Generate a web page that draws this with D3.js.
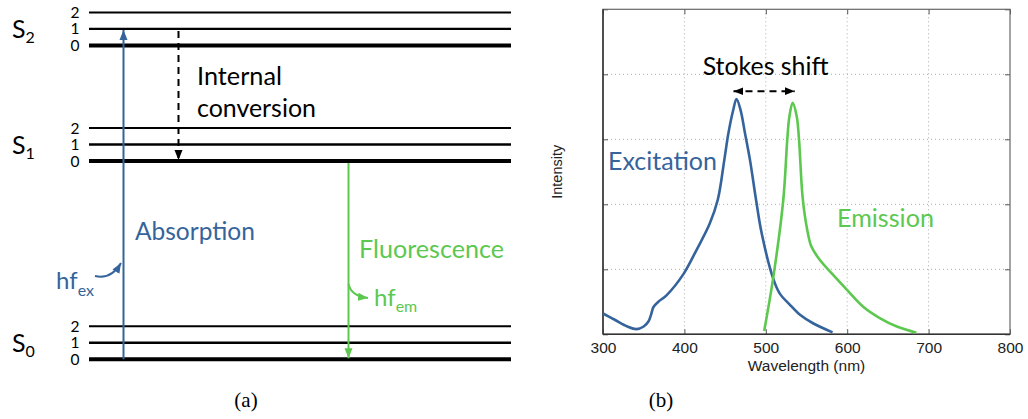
<!DOCTYPE html>
<html><head><meta charset="utf-8">
<script src="https://cdn.jsdelivr.net/npm/d3@7"></script>
<style>html,body{margin:0;padding:0;background:#fff}svg{display:block}</style>
</head><body>
<svg id="chart" width="1028" height="419"></svg>
<script>
// ---------- Data ----------
// Jablonski diagram: electronic states (energy in vibrational units) and vibrational levels
const states = ["S0", "S1", "S2"];
const stateEnergy = [0, 12, 19];
const vibLevels = [0, 1, 2];
// transitions: [fromEnergy, toEnergy]
const absorption = [0, 20];
const internalConversion = [20, 12];
const fluorescence = [12, 0];

// Spectra (wavelength nm, intensity)
const excitationNm = [300, 315, 330, 341, 350, 356, 359, 362, 368, 378, 399, 415, 431, 441, 449, 454, 460, 464, 469, 474.5, 480.6, 488, 495, 509, 517, 530, 542, 558, 582];
const excitationI  = [0.32, 0.22, 0.12, 0.08, 0.12, 0.2, 0.3, 0.42, 0.5, 0.6, 0.93, 1.3, 1.7, 2.07, 2.68, 3.09, 3.45, 3.62, 3.45, 3.09, 2.68, 2.07, 1.55, 0.86, 0.63, 0.45, 0.3, 0.17, 0.03];
const emissionNm = [498, 509, 521.5, 526.4, 529, 533, 538, 540.8, 545.3, 551, 556, 566, 583, 600, 620, 640, 661, 685];
const emissionI  = [0.05, 0.86, 2.07, 3.0, 3.35, 3.56, 3.35, 3.0, 2.1, 1.6, 1.35, 1.15, 0.91, 0.68, 0.42, 0.25, 0.12, 0.025];
const stokesPeaks = [464, 533];
const xTicks = [300, 400, 500, 600, 700, 800];
const yTicks = [0, 1, 2, 3, 4, 5];

// ---------- Styles ----------
const BLUE = "#35649c", GREEN = "#5cc84f";
const SANS = "Lato, 'Open Sans', sans-serif";
const ARIAL = "'Liberation Sans', Arial, sans-serif";
const svg = d3.select("#chart");

function fit(sel, target) {
  const fs = parseFloat(sel.attr("font-size"));
  const w = sel.node().getComputedTextLength();
  sel.attr("font-size", fs * target / w);
  return sel;
}

// markers
const defs = svg.append("defs");
function marker(id, color) {
  defs.append("marker").attr("id", id).attr("viewBox", "0 0 10 10")
    .attr("refX", 10).attr("refY", 5).attr("markerWidth", 10).attr("markerHeight", 10)
    .attr("markerUnits", "userSpaceOnUse").attr("orient", "auto-start-reverse")
    .append("path").attr("d", "M0,1 L10,5 L0,9 Z").attr("fill", color);
}
marker("ab", BLUE); marker("ag", GREEN); marker("ak", "#000");

// ---------- Panel (a) ----------
const yE = d3.scaleLinear().domain([0, 21]).range([359.3, 12.4]);
const xA = d3.scaleLinear().domain([0, 1]).range([89, 511]);
const gA = svg.append("g");

states.forEach((s, i) => {
  vibLevels.forEach(v => {
    const y = yE(stateEnergy[i] + v);
    gA.append("line").attr("x1", xA(0)).attr("x2", xA(1)).attr("y1", y).attr("y2", y)
      .attr("stroke", "#000").attr("stroke-width", v === 0 ? 4 : (v === 1 ? 2.4 : 2));
    gA.append("text").attr("x", 75).attr("y", y + 5.5).attr("text-anchor", "middle")
      .attr("font-family", SANS).attr("font-size", 15.5).text(v);
  });
  const yl = yE(stateEnergy[i] + 1);
  const t = gA.append("text").attr("x", 12).attr("y", yl + 9).attr("font-family", SANS).attr("font-size", 25);
  t.append("tspan").text(s[0]);
  t.append("tspan").attr("font-size", 16).attr("dy", 5).text(s[1]);
});

// transitions
const xAbs = 123.5, xIC = 178.5, xFl = 348.5;
gA.append("line").attr("x1", xAbs).attr("x2", xAbs).attr("y1", yE(absorption[0])).attr("y2", yE(absorption[1]) + 1)
  .attr("stroke", BLUE).attr("stroke-width", 2).attr("marker-end", "url(#ab)");
gA.append("line").attr("x1", xIC).attr("x2", xIC).attr("y1", yE(internalConversion[0]) + 2).attr("y2", yE(internalConversion[1]) - 1)
  .attr("stroke", "#000").attr("stroke-width", 2).attr("stroke-dasharray", "7,5").attr("marker-end", "url(#ak)");
gA.append("line").attr("x1", xFl).attr("x2", xFl).attr("y1", yE(fluorescence[0]) + 2).attr("y2", yE(fluorescence[1]) - 1)
  .attr("stroke", GREEN).attr("stroke-width", 2).attr("marker-end", "url(#ag)");

fit(gA.append("text").attr("x", 197).attr("y", 85).attr("font-family", SANS).attr("font-size", 24).text("Internal"), 85);
fit(gA.append("text").attr("x", 197).attr("y", 117).attr("font-family", SANS).attr("font-size", 24).text("conversion"), 119);
fit(gA.append("text").attr("x", 135).attr("y", 240).attr("font-family", SANS).attr("font-size", 24).attr("fill", BLUE).text("Absorption"), 120);
fit(gA.append("text").attr("x", 359).attr("y", 258).attr("font-family", SANS).attr("font-size", 24).attr("fill", GREEN).text("Fluorescence"), 145);

const hfex = gA.append("text").attr("x", 56).attr("y", 289).attr("font-family", SANS).attr("font-size", 24).attr("fill", BLUE);
hfex.append("tspan").text("hf"); hfex.append("tspan").attr("font-size", 16).attr("dy", 7).text("ex");
const hfem = gA.append("text").attr("x", 374).attr("y", 306).attr("font-family", SANS).attr("font-size", 24).attr("fill", GREEN);
hfem.append("tspan").text("hf"); hfem.append("tspan").attr("font-size", 16).attr("dy", 6).text("em");

gA.append("path").attr("d", "M95,276 Q111,280 121,263").attr("fill", "none").attr("stroke", BLUE).attr("stroke-width", 2).attr("marker-end", "url(#ab)");
gA.append("path").attr("d", "M348.5,284 Q351,296 368,298").attr("fill", "none").attr("stroke", GREEN).attr("stroke-width", 2).attr("marker-end", "url(#ag)");

svg.append("text").attr("x", 246).attr("y", 407).attr("text-anchor", "middle")
  .attr("font-family", "'Liberation Serif', serif").attr("font-size", 21).text("(a)");

// ---------- Panel (b) ----------
const x = d3.scaleLinear().domain([300, 800]).range([603, 1010]);
const y = d3.scaleLinear().domain([0, 5]).range([334.3, 9.3]);
const gB = svg.append("g");

// grid
gB.selectAll(".gx").data(xTicks.slice(1, -1)).enter().append("line")
  .attr("x1", d => x(d)).attr("x2", d => x(d)).attr("y1", y(0)).attr("y2", y(5))
  .attr("stroke", "#aaa").attr("stroke-width", 1).attr("stroke-dasharray", "1,3");
gB.selectAll(".gy").data(yTicks.slice(1, -1)).enter().append("line")
  .attr("x1", x(300)).attr("x2", x(800)).attr("y1", d => y(d)).attr("y2", d => y(d))
  .attr("stroke", "#aaa").attr("stroke-width", 1).attr("stroke-dasharray", "1,3");

// axes with inward ticks
const axB = gB.append("g").attr("transform", `translate(0,${y(0)})`)
  .call(d3.axisBottom(x).tickValues(xTicks).tickSizeInner(-5).tickSizeOuter(0).tickPadding(8));
axB.selectAll("text").attr("font-family", ARIAL).attr("font-size", 15.5).attr("fill", "#222");
const axT = gB.append("g").attr("transform", `translate(0,${y(5)})`)
  .call(d3.axisTop(x).tickValues(xTicks).tickSizeInner(-5).tickSizeOuter(0).tickFormat(""));
const axL = gB.append("g").attr("transform", `translate(${x(300)},0)`)
  .call(d3.axisLeft(y).tickValues(yTicks).tickSizeInner(-5).tickSizeOuter(0).tickFormat(""));
const axR = gB.append("g").attr("transform", `translate(${x(800)},0)`)
  .call(d3.axisRight(y).tickValues(yTicks).tickSizeInner(-5).tickSizeOuter(0).tickFormat(""));
[axB, axT, axL, axR].forEach(a => { a.select(".domain").remove(); a.selectAll("line").attr("stroke", "#555"); });
gB.append("rect").attr("x", x(300)).attr("y", y(5)).attr("width", x(800) - x(300)).attr("height", y(0) - y(5))
  .attr("fill", "none").attr("stroke", "#666").attr("stroke-width", 1.2);
gB.append("line").attr("x1", x(300)).attr("x2", x(800)).attr("y1", y(0)).attr("y2", y(0)).attr("stroke", "#333").attr("stroke-width", 1.5);
gB.append("line").attr("x1", x(300)).attr("x2", x(300)).attr("y1", y(0)).attr("y2", y(5)).attr("stroke", "#333").attr("stroke-width", 1.5);

const line = d3.line().x(d => x(d[0])).y(d => y(d[1])).curve(d3.curveCatmullRom.alpha(0.5));
gB.append("path").datum(d3.zip(excitationNm, excitationI)).attr("d", line)
  .attr("fill", "none").attr("stroke", BLUE).attr("stroke-width", 2.6).attr("stroke-linejoin", "round");
gB.append("path").datum(d3.zip(emissionNm, emissionI)).attr("d", line)
  .attr("fill", "none").attr("stroke", GREEN).attr("stroke-width", 2.6).attr("stroke-linejoin", "round");

// Stokes shift arrow
const ys = y(3.74);
gB.append("line").attr("x1", x(stokesPeaks[0]) - 3).attr("x2", x(stokesPeaks[1]) + 2).attr("y1", ys).attr("y2", ys)
  .attr("stroke", "#000").attr("stroke-width", 2).attr("stroke-dasharray", "7,5")
  .attr("marker-start", "url(#ak)").attr("marker-end", "url(#ak)");
fit(gB.append("text").attr("x", (x(stokesPeaks[0]) + x(stokesPeaks[1])) / 2 + 1).attr("y", 75).attr("text-anchor", "middle")
  .attr("font-family", SANS).attr("font-size", 24).text("Stokes shift"), 126);

fit(gB.append("text").attr("x", 608).attr("y", 170).attr("font-family", SANS).attr("font-size", 24).attr("fill", BLUE).text("Excitation"), 109);
fit(gB.append("text").attr("x", 837).attr("y", 227).attr("font-family", SANS).attr("font-size", 24).attr("fill", GREEN).text("Emission"), 97);

// axis labels
gB.append("text").attr("x", (x(300) + x(800)) / 2).attr("y", 371).attr("text-anchor", "middle")
  .attr("font-family", ARIAL).attr("font-size", 15.5).attr("fill", "#222").text("Wavelength (nm)");
gB.append("text").attr("transform", `translate(562,${(y(0) + y(5)) / 2}) rotate(-90)`).attr("text-anchor", "middle")
  .attr("font-family", ARIAL).attr("font-size", 14.5).attr("fill", "#222").text("Intensity");

svg.append("text").attr("x", 661).attr("y", 407).attr("text-anchor", "middle")
  .attr("font-family", "'Liberation Serif', serif").attr("font-size", 21).text("(b)");
</script>
</body></html>
